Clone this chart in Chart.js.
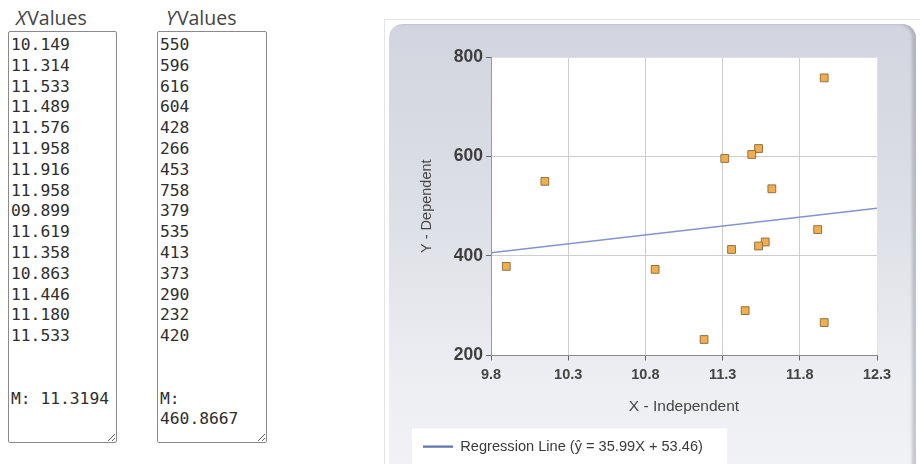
<!DOCTYPE html>
<html>
<head>
<meta charset="utf-8">
<script src="https://cdn.jsdelivr.net/npm/chart.js@4.4.1/dist/chart.umd.min.js"></script>
<style>
  html, body { margin: 0; padding: 0; background: #fff; }
  body { width: 920px; height: 464px; position: relative; overflow: hidden; }
  .cap {
    position: absolute; top: 4px; font-family: "Open Sans", "Noto Sans", sans-serif;
    font-size: 19.5px; color: #444;
  }
  .cap i { margin-right: 1px; }
  textarea {
    position: absolute; top: 31px; height: 412px; box-sizing: border-box;
    border: 1px solid #8a8a8a; border-radius: 2px; padding: 3px 2px;
    font-family: "DejaVu Sans Mono", monospace; font-size: 16.3px; line-height: 20.8px;
    color: #2e2e2e; background: #fff; overflow: hidden; margin: 0;
  }
  #frame {
    position: absolute; left: 384px; top: 19px; right: 0; bottom: 0;
    border-top: 1px solid #e4e4e4; border-left: 1px solid #e4e4e4; background: #fff;
  }
  #panel {
    position: absolute; left: 389px; top: 24px; width: 527px; height: 470px;
    border-radius: 14px;
    background: linear-gradient(to bottom, #d2d4df 0%, #dfe1e8 45%, #eceef2 75%, #f2f3f6 100%);
    box-shadow: inset -4px 0 3px rgba(90, 92, 110, 0.28);
  }
  #chartBox { position: absolute; left: 388px; top: 23px; width: 527px; height: 441px; }
</style>
</head>
<body>
<div class="cap" style="left:16px"><i>X</i>Values</div>
<div class="cap" style="left:166px"><i>Y</i>Values</div>
<textarea id="xs" style="left:8px; width:109px" spellcheck="false"></textarea>
<textarea id="ys" style="left:157px; width:110px" spellcheck="false"></textarea>
<div id="frame"></div>
<div id="panel"></div>
<div id="chartBox"><canvas id="chart" width="527" height="441"></canvas></div>
<script>
// Paired observations as entered
const xValues = ['10.149', '11.314', '11.533', '11.489', '11.576', '11.958', '11.916', '11.958',
                 '09.899', '11.619', '11.358', '10.863', '11.446', '11.180', '11.533'];
const yValues = [550, 596, 616, 604, 428, 266, 453, 758, 379, 535, 413, 373, 290, 232, 420];

// Axis ticks
const xTicks = [9.8, 10.3, 10.8, 11.3, 11.8, 12.3];
const yTicks = [200, 400, 600, 800];

// Fitted line as reported in the legend
const slope = 35.99;
const intercept = 53.46;

const mean = arr => arr.reduce((s, v) => s + parseFloat(v), 0) / arr.length;
document.getElementById('xs').value = xValues.join('\n') + '\n\n\nM: ' + mean(xValues).toFixed(4);
document.getElementById('ys').value = yValues.join('\n') + '\n\n\nM: ' + mean(yValues).toFixed(4);

const points = xValues.map((x, i) => ({ x: parseFloat(x), y: yValues[i] }));
const xLo = xTicks[0], xHi = xTicks[xTicks.length - 1];
const fitLine = [
  { x: xLo, y: slope * xLo + intercept },
  { x: xHi, y: slope * xHi + intercept }
];

const sans = '"Liberation Sans", Arial, sans-serif';
const tickFont = { family: sans, weight: 'bold' };

const backdrop = {
  id: 'backdrop',
  beforeDraw(chart) {
    const { ctx, chartArea: a, legend } = chart;
    ctx.save();
    ctx.fillStyle = '#ffffff';
    ctx.fillRect(a.left, a.top, a.right - a.left, a.bottom - a.top);
    if (legend && legend.legendHitBoxes && legend.legendHitBoxes.length) {
      const hb = legend.legendHitBoxes[0];
      const x0 = hb.left - 11;
      const x1 = hb.left + hb.width + 24;
      ctx.fillRect(x0, legend.top - 1, x1 - x0, chart.height - legend.top + 2);
    }
    ctx.restore();
  }
};

new Chart(document.getElementById('chart'), {
  type: 'scatter',
  data: {
    datasets: [
      {
        label: 'Observations',
        data: points,
        pointStyle: 'rect',
        pointRadius: 5.5,
        pointHoverRadius: 5.5,
        backgroundColor: '#f3ad4c',
        borderColor: '#8d7444',
        borderWidth: 1
      },
      {
        label: 'Regression Line (ŷ = 35.99X + 53.46)',
        data: fitLine,
        showLine: true,
        pointRadius: 0,
        borderColor: '#8393cc',
        backgroundColor: '#8393cc',
        borderWidth: 1.5
      }
    ]
  },
  plugins: [backdrop],
  options: {
    responsive: false,
    animation: false,
    layout: { padding: { left: 25, top: 34, right: 38, bottom: 0 } },
    plugins: {
      tooltip: { enabled: false },
      legend: {
        position: 'bottom',
        align: 'start',
        labels: {
          filter: item => item.datasetIndex === 1,
          generateLabels: chart => Chart.defaults.plugins.legend.labels.generateLabels(chart)
            .map(item => Object.assign(item, { strokeStyle: '#5f74ad', lineWidth: 2.2 })),
          usePointStyle: true,
          pointStyle: 'line',
          pointStyleWidth: 30,
          padding: 10,
          color: '#3a3a3a',
          font: { family: sans, size: 14.6 }
        }
      }
    },
    scales: {
      x: {
        type: 'linear',
        min: xLo,
        max: xHi,
        afterBuildTicks: s => { s.ticks = xTicks.map(v => ({ value: v })); },
        afterFit: s => { s.height = 74; },
        border: { color: '#8a8a8a', width: 1 },
        grid: {
          color: c => (c.index === 0 ? 'rgba(0,0,0,0)' : (c.index === xTicks.length - 1 ? '#e2e2e2' : '#cdcdcd')),
          tickColor: '#666',
          tickLength: 5,
          lineWidth: 1
        },
        ticks: {
          color: '#444',
          padding: 6,
          maxRotation: 0,
          font: Object.assign({ size: 14.5 }, tickFont),
          callback: v => v.toFixed(1)
        },
        title: {
          display: true,
          text: 'X - Independent',
          color: '#444',
          padding: { top: 0, bottom: 13 },
          font: { family: sans, size: 15.5 }
        }
      },
      y: {
        type: 'linear',
        min: yTicks[0],
        max: yTicks[yTicks.length - 1],
        afterBuildTicks: s => { s.ticks = yTicks.map(v => ({ value: v })); },
        afterFit: s => { s.width = 78; },
        border: { color: '#9a9a9a', width: 1 },
        grid: {
          color: c => (c.index === 0 ? 'rgba(0,0,0,0)' : (c.index === yTicks.length - 1 ? '#dedede' : '#cdcdcd')),
          tickColor: '#666',
          tickLength: 5,
          lineWidth: 1
        },
        ticks: {
          color: '#3e3e3e',
          padding: 3,
          font: Object.assign({ size: 17.5 }, tickFont),
          callback: v => String(v)
        },
        title: {
          display: true,
          text: 'Y - Dependent',
          color: '#444',
          padding: { top: 5, bottom: 0 },
          font: { family: sans, size: 14.5 }
        }
      }
    }
  }
});
</script>
</body>
</html>
